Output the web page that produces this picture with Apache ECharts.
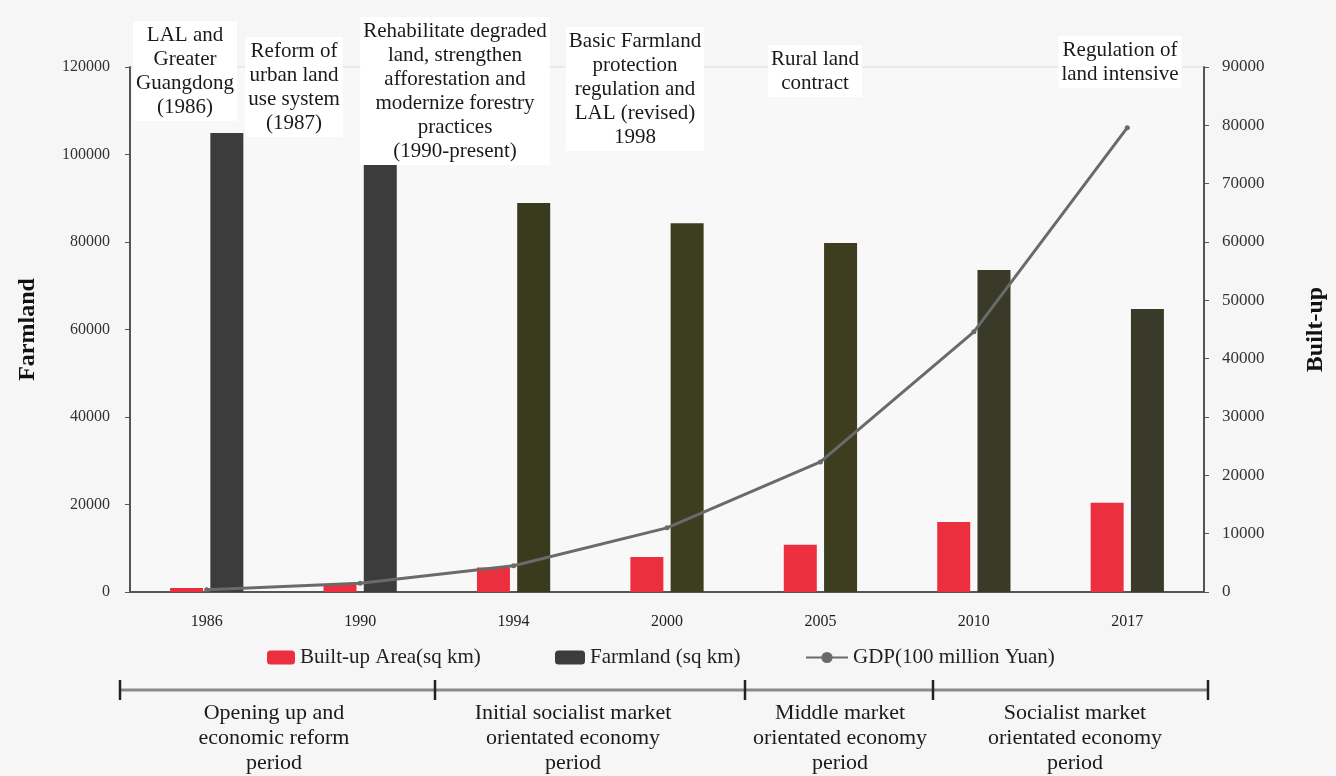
<!DOCTYPE html>
<html>
<head>
<meta charset="utf-8">
<script src="https://cdn.jsdelivr.net/npm/echarts@6/dist/echarts.min.js"></script>
<style>
html,body{margin:0;padding:0;background:#f6f6f6;}
#chart{width:1336px;height:776px;}
</style>
</head>
<body>
<div id="chart"></div>
<script>
// ---- data ----
const years = ['1986', '1990', '1994', '2000', '2005', '2010', '2017'];
const builtUp = [700, 1200, 4200, 6000, 8100, 12000, 15300];          // sq km (right axis)
const farmland = [104900, 97600, 88900, 84300, 79800, 73600, 64700];  // sq km (left axis)
const gdp = [400, 1500, 4500, 11000, 22300, 44600, 79600];            // 100 million Yuan (right axis)
const leftTicks = { min: 0, max: 120000, interval: 20000 };
const rightTicks = { min: 0, max: 90000, interval: 10000 };
const policyNotes = [
  'LAL and\nGreater\nGuangdong\n(1986)',
  'Reform of\nurban land\nuse system\n(1987)',
  'Rehabilitate degraded\nland, strengthen\nafforestation and\nmodernize forestry\npractices\n(1990-present)',
  'Basic Farmland\nprotection\nregulation and\nLAL (revised)\n1998',
  'Rural land\ncontract',
  'Regulation of\nland intensive'
];
const periods = [
  'Opening up and\neconomic reform\nperiod',
  'Initial socialist market\norientated economy\nperiod',
  'Middle market\norientated economy\nperiod',
  'Socialist market\norientated economy\nperiod'
];
const seriesNames = ['Built-up Area(sq km)', 'Farmland (sq km)', 'GDP(100 million Yuan)'];

// ---- styles ----
const farmColors = ['#3c3c3c', '#3c3c3c', '#3a3a1e', '#3d3d1f', '#3d3d1f', '#3a3a28', '#3a3a2a'];
const FONT = '"Liberation Serif", "DejaVu Serif", serif';
const noteLayout = [
  { x: 185, y: 21 }, { x: 294, y: 37 }, { x: 455, y: 17 },
  { x: 635, y: 27 }, { x: 815, y: 45 }, { x: 1120, y: 36 }
];
const periodX = [274, 573, 840, 1075];
const tickX = [120, 435, 745, 933, 1208];

const chart = echarts.init(document.getElementById('chart'));

const graphics = [];
policyNotes.forEach((t, i) => {
  graphics.push({
    type: 'text', x: noteLayout[i].x, y: noteLayout[i].y, z: 10,
    style: {
      text: t, fill: '#1a1a1a', font: '21px ' + FONT, lineHeight: 24,
      align: 'center', verticalAlign: 'top',
      backgroundColor: '#ffffff', padding: [2, 3]
    }
  });
});
graphics.push({
  type: 'line', shape: { x1: tickX[0], y1: 690, x2: tickX[tickX.length - 1], y2: 690 },
  style: { stroke: '#8a8a8a', lineWidth: 3 }
});
tickX.forEach(x => {
  graphics.push({
    type: 'line', shape: { x1: x, y1: 680, x2: x, y2: 700 },
    style: { stroke: '#222', lineWidth: 2.5 }
  });
});
periods.forEach((t, i) => {
  graphics.push({
    type: 'text', x: periodX[i], y: 701,
    style: {
      text: t, fill: '#1a1a1a', font: '22px ' + FONT, lineHeight: 25,
      align: 'center', verticalAlign: 'top'
    }
  });
});

const legendText = { fontFamily: FONT, fontSize: 21, color: '#222' };

chart.setOption({
  backgroundColor: '#f6f6f6',
  animation: false,
  textStyle: { fontFamily: FONT },
  grid: {
    left: 130, right: 131, top: 67, bottom: 184,
    show: true, borderColor: '#dcdcdc', borderWidth: 1, backgroundColor: '#f8f8f8'
  },
  legend: [
    { data: [seriesNames[0]], left: 262, top: 642, itemWidth: 28, itemHeight: 14, textStyle: legendText },
    { data: [seriesNames[1]], left: 550, top: 642, itemWidth: 30, itemHeight: 14, textStyle: legendText },
    { data: [seriesNames[2]], left: 800, top: 642, itemWidth: 42, itemHeight: 14, textStyle: legendText }
  ],
  xAxis: {
    type: 'category', data: years,
    axisLine: { lineStyle: { color: '#555', width: 2 } },
    axisTick: { show: false },
    axisLabel: { color: '#222', fontSize: 16, fontFamily: FONT, margin: 22 }
  },
  yAxis: [
    {
      type: 'value', position: 'left', ...leftTicks,
      name: 'Farmland', nameLocation: 'middle', nameGap: 90, nameRotate: 90,
      nameTextStyle: { fontFamily: FONT, fontSize: 24, fontWeight: 'bold', color: '#111' },
      axisLine: { show: true, lineStyle: { color: '#555', width: 2 } },
      axisTick: { show: true, length: 5, lineStyle: { color: '#555' } },
      axisLabel: { color: '#333', fontSize: 16, fontFamily: FONT, margin: 20, formatter: v => String(v) },
      splitLine: { show: false }
    },
    {
      type: 'value', position: 'right', ...rightTicks,
      name: 'Built-up', nameLocation: 'middle', nameGap: 100, nameRotate: 90,
      nameTextStyle: { fontFamily: FONT, fontSize: 24, fontWeight: 'bold', color: '#111' },
      axisLine: { show: true, lineStyle: { color: '#555', width: 2 } },
      axisTick: { show: true, length: 5, lineStyle: { color: '#555' } },
      axisLabel: { color: '#333', fontSize: 17, fontFamily: FONT, margin: 18, formatter: v => String(v) },
      splitLine: { show: false }
    }
  ],
  series: [
    {
      name: seriesNames[0], type: 'bar', yAxisIndex: 1, data: builtUp,
      barWidth: 33, barGap: '22%',
      itemStyle: { color: '#ec2f3e' }
    },
    {
      name: seriesNames[1], type: 'bar', yAxisIndex: 0,
      data: farmland.map((v, i) => ({ value: v, itemStyle: { color: farmColors[i] } })),
      barWidth: 33, barGap: '22%',
      itemStyle: { color: '#3c3c3c' }
    },
    {
      name: seriesNames[2], type: 'line', yAxisIndex: 1, data: gdp,
      symbol: 'circle', symbolSize: 5, z: 5,
      lineStyle: { color: '#6a6a6a', width: 3 },
      itemStyle: { color: '#6a6a6a' }
    }
  ],
  graphic: graphics
});
</script>
</body>
</html>
